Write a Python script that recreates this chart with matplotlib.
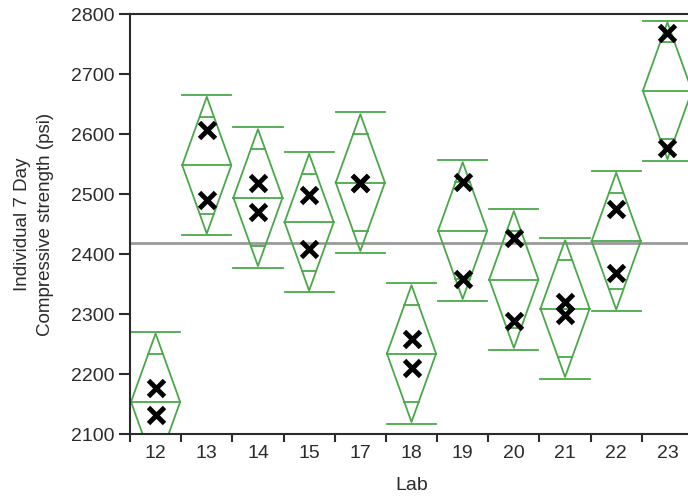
import numpy as np
import matplotlib
matplotlib.use("Agg")
import matplotlib.pyplot as plt

# data
labs = ["12", "13", "14", "15", "17", "18", "19", "20", "21", "22", "23"]
rep1 = [2176, 2606, 2518, 2498, 2519, 2258, 2520, 2426, 2320, 2475, 2768]
rep2 = [2131, 2490, 2470, 2408, 2519, 2210, 2358, 2289, 2298, 2368, 2576]
grand_mean = 2418
ci_half = 114    # half height of the means diamonds
cap_half = 117   # position of the horizontal caps

green = "#4aa84a"
dark = "#2b2b2b"

plt.rcParams["font.family"] = ["Liberation Sans", "DejaVu Sans"]

fig = plt.figure(figsize=(6.88, 4.98), dpi=100)
# axes run past the right edge of the picture, as in the reference
ax = fig.add_axes([130 / 688, 64 / 498, 563 / 688, 420 / 498])

w = 0.48
for i, lab in enumerate(labs):
    m = (rep1[i] + rep2[i]) / 2.0
    # diamond
    ax.plot([i - w, i, i + w, i, i - w],
            [m, m + ci_half, m, m - ci_half, m], color=green, lw=1.3)
    # mean line
    ax.plot([i - w, i + w], [m, m], color=green, lw=1.3)
    # overlap marks
    h = ci_half / np.sqrt(2)
    cw = w * (1 - 1 / np.sqrt(2))
    for s in (1, -1):
        ax.plot([i - cw, i + cw], [m + s * h, m + s * h], color=green, lw=1.3)
    # caps
    for s in (1, -1):
        ax.plot([i - w, i + w], [m + s * cap_half, m + s * cap_half],
                color=green, lw=1.3)

x = np.arange(len(labs))
ax.plot(x, rep1, "x", color="black", ms=11, mew=3.5, zorder=5)
ax.plot(x, rep2, "x", color="black", ms=11, mew=3.5, zorder=5)

ax.axhline(grand_mean, color="#999999", lw=2, zorder=1)

ax.set_xlim(-0.5, len(labs) - 0.5)
ax.set_ylim(2100, 2800)
ax.set_yticks(np.arange(2100, 2801, 100))

ax.set_xticks(x)
ax.set_xticklabels(labs)
ax.set_xticks(np.arange(-0.5, len(labs), 1.0), minor=True)
ax.tick_params(axis="x", which="major", length=0, pad=8,
               labelsize=14, labelcolor=dark)
ax.tick_params(axis="x", which="minor", length=6, width=1.5, color=dark,
               direction="out")
ax.tick_params(axis="y", length=8, width=1.5, color=dark, labelsize=14,
               labelcolor=dark, pad=3)

for sp in ("left", "bottom", "top"):
    ax.spines[sp].set_color(dark)
    ax.spines[sp].set_linewidth(1.5)
ax.spines["right"].set_visible(False)

ax.set_xlabel("Lab", fontsize=14, color=dark, labelpad=11)
ax.set_ylabel("Individual 7 Day\nCompressive strength (psi)", fontsize=13.5,
              color=dark, linespacing=1.45)
ax.yaxis.set_label_coords(-76 / 563, 0.5)

fig.savefig("out.png", dpi=100)
